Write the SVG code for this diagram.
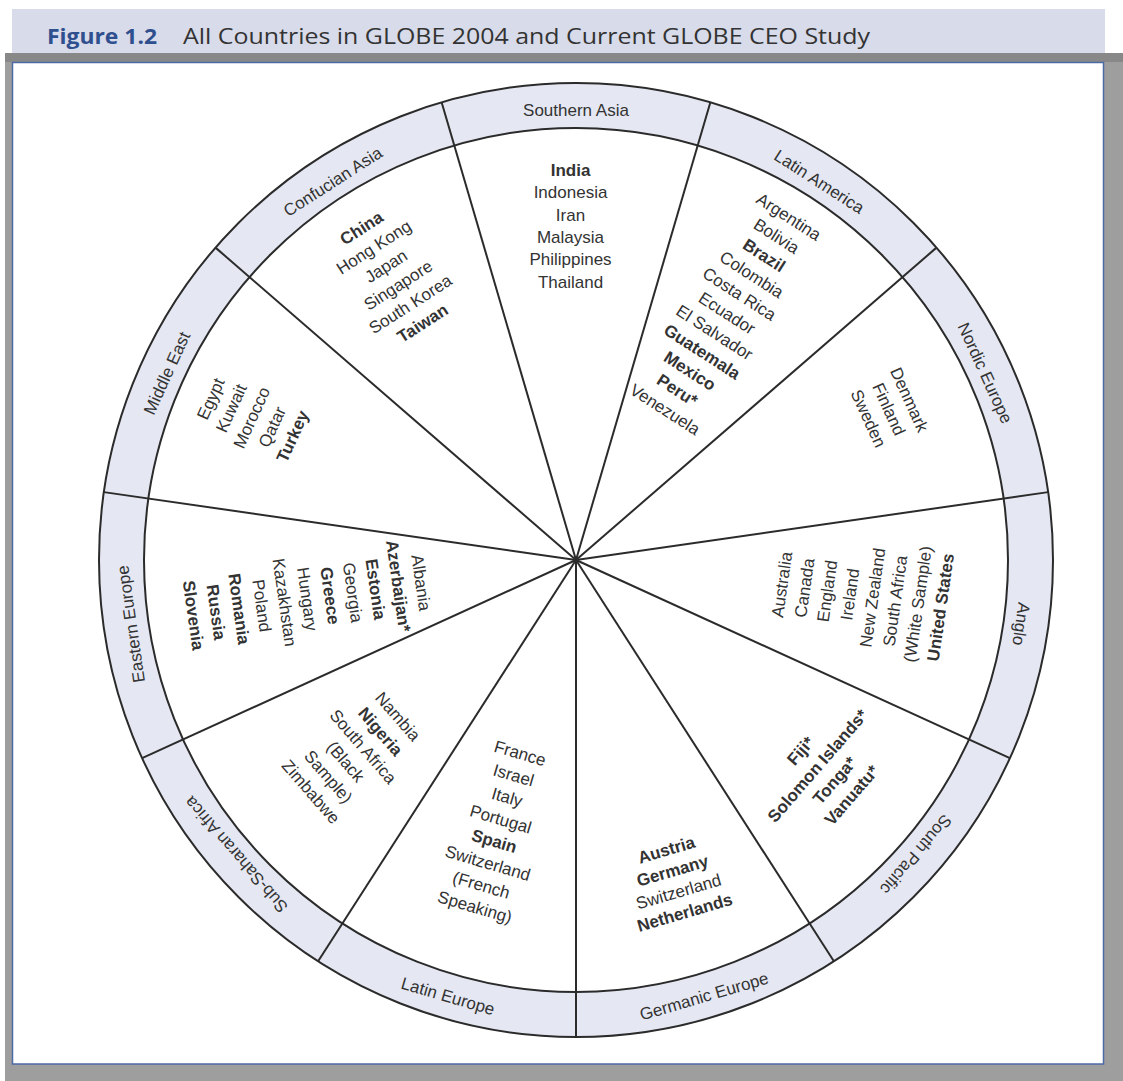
<svg xmlns="http://www.w3.org/2000/svg" width="1123" height="1081" viewBox="0 0 1123 1081">
<style>
.ring{fill:#e5e8f2;stroke:#2b2b2b;stroke-width:2}
.inner{fill:#ffffff;stroke:#2b2b2b;stroke-width:2}
.div{stroke:#2b2b2b;stroke-width:2;fill:none}
text{font-family:"Liberation Sans",Arial,sans-serif;font-size:17px;fill:#333333;text-anchor:middle}
.b{font-weight:bold}
.t1{font-family:"Open Sans","Liberation Sans",sans-serif;font-size:22px;font-weight:bold;fill:#2f4f8f;text-anchor:start}
.t2{font-family:"Open Sans","Liberation Sans",sans-serif;font-size:22px;fill:#333333;text-anchor:start}
</style>
<rect x="0" y="0" width="1123" height="1081" fill="#ffffff"/>
<g id="title">
<rect x="12" y="9" width="1093" height="44" fill="#d8dbe9"/>
<text class="t1" x="47" y="44" textLength="110" lengthAdjust="spacingAndGlyphs">Figure 1.2</text>
<text class="t2" x="183" y="44" textLength="687" lengthAdjust="spacingAndGlyphs">All Countries in GLOBE 2004 and Current GLOBE CEO Study</text>
</g>
<g id="frame">
<rect x="5" y="53" width="1118" height="1028" fill="#9e9e9e"/>
<rect x="5" y="53" width="1118" height="9" fill="#888888"/>
<rect x="12.5" y="62.5" width="1091" height="1001.5" fill="#ffffff" stroke="#4b6aa6" stroke-width="1.5"/>
</g>
<g id="wheel">
<circle class="ring" cx="576" cy="560" r="477"/>
<circle class="inner" cx="576" cy="560" r="432"/>
</g>
<g id="connectors">
<line class="div" x1="576" y1="560" x2="710.39" y2="102.32"/>
<line class="div" x1="576" y1="560" x2="936.49" y2="247.63"/>
<line class="div" x1="576" y1="560" x2="1048.14" y2="492.12"/>
<line class="div" x1="576" y1="560" x2="1009.89" y2="758.16"/>
<line class="div" x1="576" y1="560" x2="833.89" y2="961.28"/>
<line class="div" x1="576" y1="560" x2="576" y2="1037"/>
<line class="div" x1="576" y1="560" x2="318.11" y2="961.28"/>
<line class="div" x1="576" y1="560" x2="142.11" y2="758.16"/>
<line class="div" x1="576" y1="560" x2="103.86" y2="492.12"/>
<line class="div" x1="576" y1="560" x2="215.51" y2="247.63"/>
<line class="div" x1="576" y1="560" x2="441.61" y2="102.32"/>
<circle cx="576" cy="560" r="2.5" fill="#2b2b2b"/>
</g>
<g id="ring-labels" transform="translate(576,560)">
<text transform="rotate(0)" y="-444">Southern Asia</text>
<text transform="rotate(32.73)" y="-444">Latin America</text>
<text transform="rotate(65.45)" y="-444">Nordic Europe</text>
<text transform="rotate(98.18)" y="-444">Anglo</text>
<text transform="rotate(130.91)" y="-444">South Pacific</text>
<text transform="rotate(-16.36)" y="460.5">Germanic Europe</text>
<text transform="rotate(16.36)" y="460.5">Latin Europe</text>
<text transform="rotate(229.09)" y="-444">Sub-Saharan Africa</text>
<text transform="rotate(261.82)" y="-444">Eastern Europe</text>
<text transform="rotate(294.55)" y="-444">Middle East</text>
<text transform="rotate(327.27)" y="-444">Confucian Asia</text>
</g>
<g id="southern-asia" transform="translate(570.5,225.75)">
<text class="b" y="-49.75">India</text>
<text y="-27.45">Indonesia</text>
<text y="-5.15">Iran</text>
<text y="17.15">Malaysia</text>
<text y="39.45">Philippines</text>
<text y="61.75">Thailand</text>
</g>
<g id="latin-america" transform="translate(727,313) rotate(32.73)">
<text y="-108.5">Argentina</text>
<text y="-85.6">Bolivia</text>
<text class="b" y="-62.7">Brazil</text>
<text y="-39.8">Colombia</text>
<text y="-16.9">Costa Rica</text>
<text y="6">Ecuador</text>
<text y="28.9">El Salvador</text>
<text class="b" y="51.8">Guatemala</text>
<text class="b" y="74.7">Mexico</text>
<text class="b" y="97.6">Peru*</text>
<text y="120.5">Venezuela</text>
</g>
<g id="nordic-europe" transform="translate(889,409) rotate(65.45)">
<text y="-16.5">Denmark</text>
<text y="6">Finland</text>
<text y="28.5">Sweden</text>
</g>
<g id="anglo" transform="translate(861,596) rotate(-81.82)">
<text y="-74.15">Australia</text>
<text y="-51.25">Canada</text>
<text y="-28.35">England</text>
<text y="-5.45">Ireland</text>
<text y="17.45">New Zealand</text>
<text y="40.35">South Africa</text>
<text y="63.25">(White Sample)</text>
<text class="b" y="86.15">United States</text>
</g>
<g id="south-pacific" transform="translate(826,773) rotate(-49.09)">
<text class="b" y="-27.75">Fiji*</text>
<text class="b" y="-5.25">Solomon Islands*</text>
<text class="b" y="17.25">Tonga*</text>
<text class="b" y="39.75">Vanuatu*</text>
</g>
<g id="germanic-europe" transform="translate(675.5,881) rotate(-16.36)">
<text class="b" y="-26.7">Austria</text>
<text class="b" y="-4.9">Germany</text>
<text y="16.9">Switzerland</text>
<text class="b" y="38.7">Netherlands</text>
</g>
<g id="latin-europe" transform="translate(497.5,830) rotate(16.36)">
<text y="-74.15">France</text>
<text y="-51.25">Israel</text>
<text y="-28.35">Italy</text>
<text y="-5.45">Portugal</text>
<text class="b" y="17.45">Spain</text>
<text y="40.35">Switzerland</text>
<text y="63.25">(French</text>
<text y="86.15">Speaking)</text>
</g>
<g id="sub-saharan-africa" transform="translate(354.5,754) rotate(49.09)">
<text y="-51.5">Nambia</text>
<text class="b" y="-28.5">Nigeria</text>
<text y="-5.5">South Africa</text>
<text y="17.5">(Black</text>
<text y="40.5">Sample)</text>
<text y="63.5">Zimbabwe</text>
</g>
<g id="eastern-europe" transform="translate(307.5,599) rotate(81.82)">
<text y="-109">Albania</text>
<text class="b" y="-86">Azerbaijan*</text>
<text class="b" y="-63">Estonia</text>
<text y="-40">Georgia</text>
<text class="b" y="-17">Greece</text>
<text y="6">Hungary</text>
<text y="29">Kazakhstan</text>
<text y="52">Poland</text>
<text class="b" y="75">Romania</text>
<text class="b" y="98">Russia</text>
<text class="b" y="121">Slovenia</text>
</g>
<g id="middle-east" transform="translate(251.5,417.5) rotate(-65.45)">
<text y="-39">Egypt</text>
<text y="-16.5">Kuwait</text>
<text y="6">Morocco</text>
<text y="28.5">Qatar</text>
<text class="b" y="51">Turkey</text>
</g>
<g id="confucian-asia" transform="translate(392,275.5) rotate(-32.73)">
<text class="b" y="-50.5">China</text>
<text y="-27.9">Hong Kong</text>
<text y="-5.3">Japan</text>
<text y="17.3">Singapore</text>
<text y="39.9">South Korea</text>
<text class="b" y="62.5">Taiwan</text>
</g>
</svg>
